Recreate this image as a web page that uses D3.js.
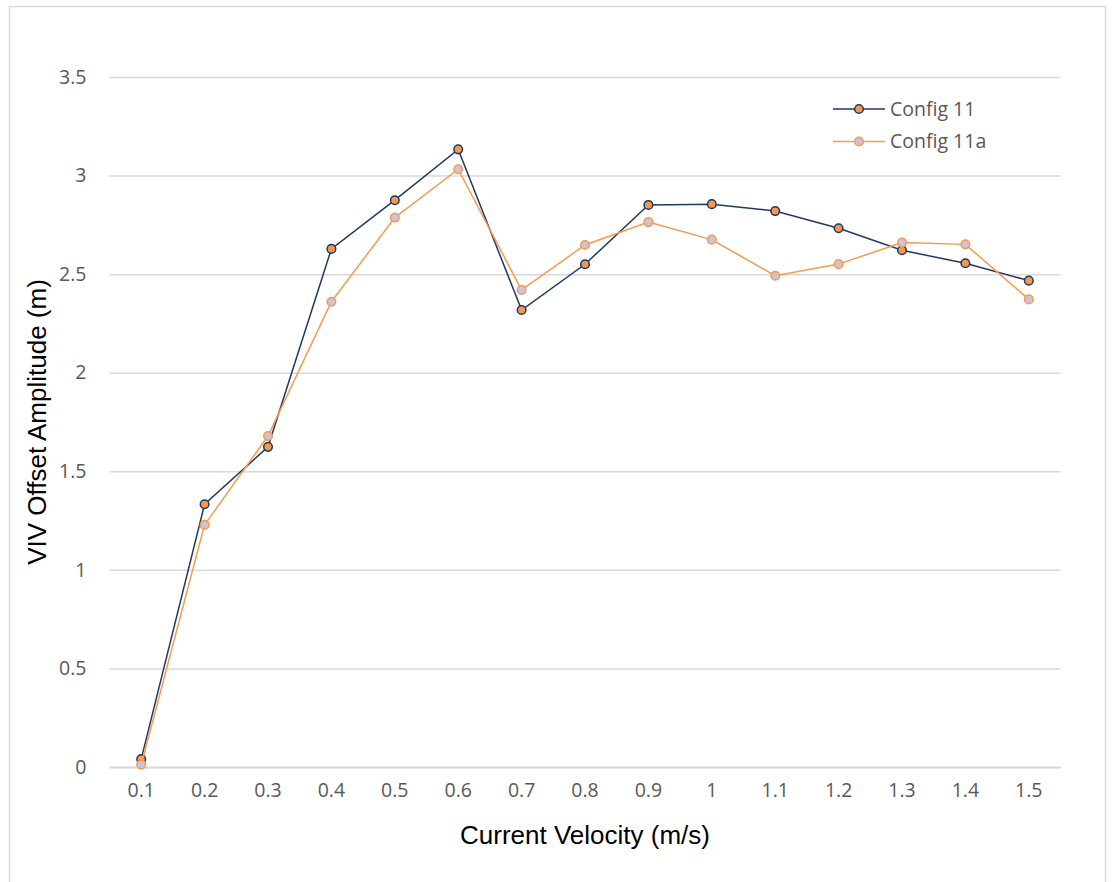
<!DOCTYPE html>
<html>
<head>
<meta charset="utf-8">
<script src="https://cdn.jsdelivr.net/npm/d3@7"></script>
<style>
  html, body { margin: 0; padding: 0; background: #fff; }
  svg { display: block; font-family: "Open Sans", "Liberation Sans", sans-serif; }
</style>
</head>
<body>
<svg id="chart" width="1113" height="882"></svg>
<script>
// Current velocity categories (m/s)
const velocities = ["0.1", "0.2", "0.3", "0.4", "0.5", "0.6", "0.7", "0.8", "0.9", "1", "1.1", "1.2", "1.3", "1.4", "1.5"];
// VIV offset amplitude (m)
const config11 = [0.04, 1.333, 1.624, 2.628, 2.875, 3.133, 2.318, 2.55, 2.851, 2.855, 2.82, 2.733, 2.621, 2.555, 2.467];
const config11a = [0.012, 1.228, 1.679, 2.36, 2.787, 3.032, 2.42, 2.648, 2.764, 2.675, 2.492, 2.551, 2.66, 2.651, 2.372];
const yTicks = [0, 0.5, 1, 1.5, 2, 2.5, 3, 3.5];
const seriesNames = ["Config 11", "Config 11a"];

const series = [
  { name: seriesNames[0], values: config11, line: "#203864", fill: "#f4994a", stroke: "#203864" },
  { name: seriesNames[1], values: config11a, line: "#f79a4c", fill: "#cbc3da", stroke: "#f79a4c" }
];

const labelFont = "'Open Sans', 'Liberation Sans', sans-serif";
const labelSize = "19.5px";

const svg = d3.select("#chart");

// chart frame
svg.append("rect")
  .attr("x", 9.5).attr("y", 6.5)
  .attr("width", 1096).attr("height", 900)
  .attr("fill", "#fff").attr("stroke", "#d9d9d9").attr("stroke-width", 1.5);

const plot = { left: 109.5, right: 1060.5, top: 77, bottom: 767 };

const x = d3.scaleBand().domain(velocities).range([plot.left, plot.right]);
const y = d3.scaleLinear().domain([0, 3.5]).range([plot.bottom, plot.top]);

// horizontal gridlines
svg.append("g")
  .attr("transform", `translate(${plot.left},0)`)
  .call(d3.axisLeft(y).tickValues(yTicks).tickSize(-(plot.right - plot.left)).tickFormat(""))
  .call(g => g.select(".domain").remove())
  .call(g => g.selectAll(".tick line").attr("stroke", "#d9d9d9").attr("stroke-width", 1.5));

// y tick labels
svg.append("g")
  .attr("transform", `translate(${plot.left},0)`)
  .call(d3.axisLeft(y).tickValues(yTicks).tickSize(0).tickPadding(23).tickFormat(d3.format("")))
  .call(g => g.select(".domain").remove())
  .call(g => g.selectAll(".tick text")
    .attr("fill", "#595959").attr("font-size", labelSize)
    .attr("font-family", labelFont));

// x axis
svg.append("g")
  .attr("transform", `translate(0,${plot.bottom})`)
  .call(d3.axisBottom(x).tickSize(0).tickPadding(16))
  .call(g => g.select(".domain").attr("stroke", "#d9d9d9").attr("stroke-width", 2))
  .call(g => g.selectAll(".tick text")
    .attr("fill", "#595959").attr("font-size", labelSize)
    .attr("font-family", labelFont));

// axis titles
svg.append("text")
  .attr("x", 585).attr("y", 844)
  .attr("text-anchor", "middle")
  .attr("font-size", "26px").attr("fill", "#000")
  .attr("font-family", "'Liberation Sans', Arial, sans-serif")
  .text("Current Velocity (m/s)");

svg.append("text")
  .attr("transform", `translate(46,${(plot.top + plot.bottom) / 2}) rotate(-90)`)
  .attr("text-anchor", "middle")
  .attr("font-size", "26px").attr("fill", "#000")
  .attr("font-family", "'Liberation Sans', Arial, sans-serif")
  .text("VIV Offset Amplitude (m)");

const cx = d => x(d) + x.bandwidth() / 2;
const lineGen = d3.line().x(d => cx(d.v)).y(d => y(d.a));

// series lines and markers
series.forEach(s => {
  const pts = velocities.map((v, i) => ({ v, a: s.values[i] }));
  const g = svg.append("g");
  g.append("path")
    .datum(pts)
    .attr("d", lineGen)
    .attr("fill", "none")
    .attr("stroke", s.line)
    .attr("stroke-width", 1.5);
  g.selectAll("circle")
    .data(pts)
    .join("circle")
    .attr("cx", d => cx(d.v))
    .attr("cy", d => y(d.a))
    .attr("r", 4.3)
    .attr("fill", s.fill)
    .attr("stroke", s.stroke)
    .attr("stroke-width", 1.5);
});

// legend
const legend = svg.append("g").attr("transform", "translate(833,109)");
series.forEach((s, i) => {
  const row = legend.append("g").attr("transform", `translate(0,${i * 32.5})`);
  row.append("line")
    .attr("x1", 0).attr("x2", 52).attr("y1", 0).attr("y2", 0)
    .attr("stroke", s.line).attr("stroke-width", 1.5);
  row.append("circle")
    .attr("cx", 26).attr("cy", 0).attr("r", 4.3)
    .attr("fill", s.fill).attr("stroke", s.stroke).attr("stroke-width", 1.5);
  row.append("text")
    .attr("x", 57).attr("y", 0).attr("dy", "0.35em")
    .attr("font-size", labelSize).attr("fill", "#595959")
    .attr("font-family", labelFont)
    .text(s.name);
});
</script>
</body>
</html>
